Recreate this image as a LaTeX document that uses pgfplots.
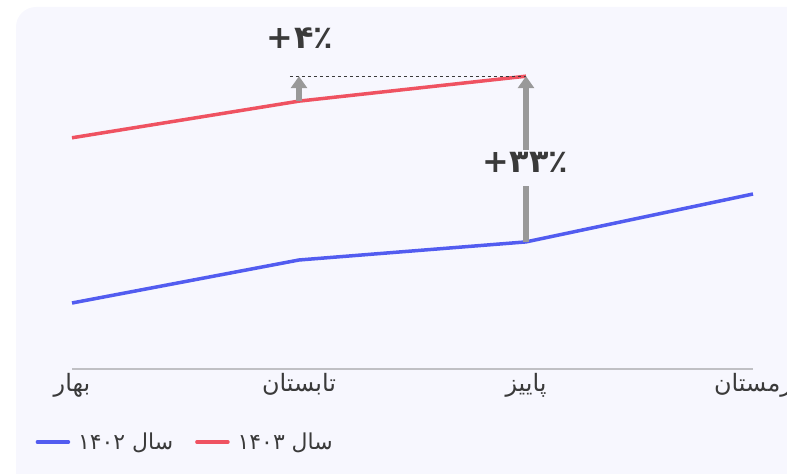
\documentclass[border=0pt]{standalone}
\usepackage{fontspec}
\usepackage{pgfplots}
\pgfplotsset{compat=1.18}
\usetikzlibrary{arrows.meta}
\setmainfont{DejaVu Sans}
\newfontfamily\fa[Script=Arabic]{DejaVu Sans}
\TeXXeTstate=1
\definecolor{bgc}{HTML}{F7F7FE}
\definecolor{redl}{HTML}{EF5261}
\definecolor{bluel}{HTML}{525CF0}
\definecolor{arrowg}{HTML}{999999}
\definecolor{axisg}{HTML}{C0C0C4}
\definecolor{txt}{HTML}{3A3A3A}
\begin{document}
\begin{tikzpicture}[x=1bp,y=1bp]
\fill[bgc, rounded corners=20bp] (16,-40) rectangle (840,467);
\begin{axis}[
  at={(72bp,105bp)}, anchor=south west, scale only axis,
  width=681bp, height=327.5bp,
  xmin=0, xmax=3, ymin=74, ymax=141,
  axis x line=bottom, axis y line=none,
  axis line style={draw=axisg, line width=1.5bp, -},
  xtick={0,1,2,3}, xticklabels={بهار,تابستان,پاییز,زمستان},
  major tick length=0, ytick=\empty,
  xticklabel style={font=\fa\fontsize{24}{28}\selectfont, text=txt, yshift=-1bp},
  clip=false,
  legend style={at={(axis description cs:-0.058,-0.223)}, anchor=west,
    draw=none, fill=none, legend columns=2,
    font=\fa\fontsize{22}{26}\selectfont, text=txt,
    /tikz/every odd column/.append style={column sep=6bp},
    /tikz/every even column/.append style={column sep=20bp}},
  legend cell align=left,
  legend image code/.code={\draw[#1, line width=3.5bp, line cap=round] (0bp,0bp) -- (31bp,0bp);},
]
\addplot[bluel, line width=3.5bp] coordinates {(0,87.5)(1,96.3)(2,100.0)(3,109.8)};
\addlegendentry{\beginR سال ۱۴۰۲\endR}
\addplot[redl, line width=3.5bp] coordinates {(0,121.3)(1,128.8)(2,133.9)};
\addlegendentry{\beginR سال ۱۴۰۳\endR}
\draw[txt, dash pattern=on 3bp off 3bp, line width=1bp] (axis cs:0.96,133.9) -- (axis cs:2,133.9);
\draw[arrowg, line width=5.5bp, -{Triangle[length=12bp,width=16bp]}] (axis cs:1,128.8) -- (axis cs:1,133.9);
\draw[arrowg, line width=5.5bp, -{Triangle[length=12bp,width=16bp]}] (axis cs:2,118.8) -- (axis cs:2,133.9);
\draw[arrowg, line width=5.5bp] (axis cs:2,100) -- (axis cs:2,111.5);
\node[txt, font=\fa\bfseries\fontsize{32}{36}\selectfont] at (axis cs:1.004,141.7) {\mbox{+}\kern1bp\mbox{۴٪}};
\node[txt, font=\fa\bfseries\fontsize{32}{36}\selectfont] at (axis cs:1.996,116.2) {\mbox{+}\kern1bp\mbox{۳۳٪}};
\end{axis}
\pgfresetboundingbox
\useasboundingbox (0,0) rectangle (787,474);
\end{tikzpicture}
\end{document}
